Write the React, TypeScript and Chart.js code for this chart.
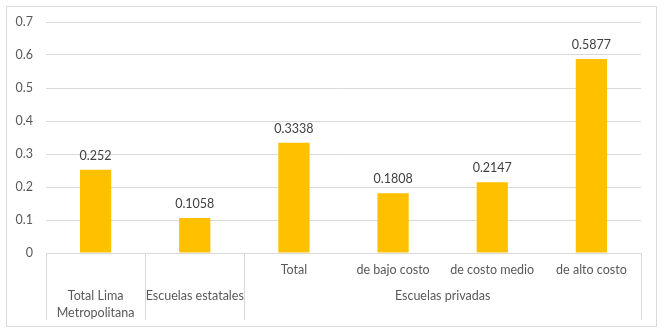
import React, { useEffect, useRef } from "react";
import { Chart, registerables } from "chart.js";

Chart.register(...registerables);

const categoryLabels = ["", "", "Total", "de bajo costo", "de costo medio", "de alto costo"];
const groupLabels: string[][] = [["Total Lima", "Metropolitana"], ["Escuelas estatales"], ["Escuelas privadas"]];
const groupSpans = [1, 1, 4];
const values = [0.252, 0.1058, 0.3338, 0.1808, 0.2147, 0.5877];
const valueLabels = ["0.252", "0.1058", "0.3338", "0.1808", "0.2147", "0.5877"];
const yMin = 0;
const yMax = 0.7;
const yStep = 0.1;

const FONT = "Lato";
const FONT_SIZE = 12.5;
const GRID = "#d9d9d9";
const TEXT = "#595959";
const LABEL = "#404040";
const BAR = "#FFC000";

const multiLevelPlugin = {
  id: "multiLevel",
  afterDraw(chart: any) {
    const ctx = chart.ctx;
    const area = chart.chartArea;
    const xs = chart.scales.x;
    const n = categoryLabels.length;
    const boundary = (i: number) => {
      if (i <= 0) return area.left;
      if (i >= n) return area.right;
      return (xs.getPixelForValue(i - 1) + xs.getPixelForValue(i)) / 2;
    };
    ctx.save();
    // outer border
    ctx.strokeStyle = GRID;
    ctx.lineWidth = 1;
    ctx.strokeRect(6.5, 6.5, 650, 320);
    // axis line
    ctx.beginPath();
    ctx.moveTo(area.left, Math.round(area.bottom) + 0.5);
    ctx.lineTo(area.right, Math.round(area.bottom) + 0.5);
    ctx.stroke();
    // separators
    const sepBottom = area.bottom + 67;
    let idx = 0;
    const bounds = [0];
    groupSpans.forEach((s) => {
      idx += s;
      bounds.push(idx);
    });
    bounds.forEach((b) => {
      const x = Math.round(boundary(b)) + 0.5;
      ctx.beginPath();
      ctx.moveTo(x, area.bottom);
      ctx.lineTo(x, sepBottom);
      ctx.stroke();
    });
    // sub labels
    ctx.font = `${FONT_SIZE}px ${FONT}`;
    ctx.fillStyle = TEXT;
    ctx.textAlign = "center";
    ctx.textBaseline = "middle";
    categoryLabels.forEach((l, i) => {
      if (!l) return;
      ctx.fillText(l, xs.getPixelForValue(i), area.bottom + 17);
    });
    // group labels
    let start = 0;
    groupLabels.forEach((lines, g) => {
      const end = start + groupSpans[g];
      const cx = (boundary(start) + boundary(end)) / 2;
      lines.forEach((line, li) => {
        ctx.fillText(line, cx, area.bottom + 43 + li * 16.5);
      });
      start = end;
    });
    // data labels
    const meta = chart.getDatasetMeta(0);
    ctx.fillStyle = LABEL;
    meta.data.forEach((bar: any, i: number) => {
      ctx.fillText(valueLabels[i], bar.x, bar.y - 14);
    });
    ctx.restore();
  },
};

export default function App() {
  const ref = useRef<HTMLCanvasElement>(null);
  useEffect(() => {
    if (!ref.current) return;
    const chart = new Chart(ref.current, {
      type: "bar",
      data: {
        labels: categoryLabels,
        datasets: [
          {
            data: values,
            backgroundColor: BAR,
            borderWidth: 0,
            categoryPercentage: 1,
            barPercentage: 0.315,
          },
        ],
      },
      options: {
        animation: false,
        responsive: false,
        maintainAspectRatio: false,
        layout: { padding: { left: 0, top: 22, right: 26, bottom: 79 } },
        plugins: { legend: { display: false }, tooltip: { enabled: false } },
        scales: {
          x: { display: false },
          y: {
            min: yMin,
            max: yMax,
            ticks: {
              stepSize: yStep,
              color: TEXT,
              padding: 13,
              font: { family: FONT, size: FONT_SIZE },
              callback: (v: any) => String(Math.round(Number(v) * 10) / 10),
            },
            grid: { color: GRID, drawTicks: false, lineWidth: 1 },
            border: { display: false },
            afterFit: (scale: any) => {
              scale.width = 46;
            },
          },
        },
      },
      plugins: [multiLevelPlugin],
    });
    return () => chart.destroy();
  }, []);
  return (
    <div style={{ position: "fixed", left: 0, top: 0, width: 667, height: 332, background: "#fff" }}>
      <canvas ref={ref} width={667} height={332} />
    </div>
  );
}
